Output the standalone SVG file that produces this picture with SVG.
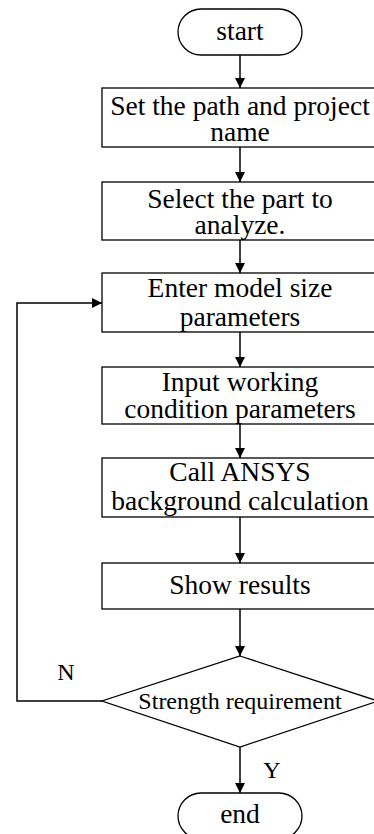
<svg xmlns="http://www.w3.org/2000/svg" width="374" height="834" viewBox="0 0 374 834">
<defs>
<marker id="arr" markerWidth="10" markerHeight="10" refX="10" refY="5" orient="auto" markerUnits="userSpaceOnUse">
<path d="M0,0 L10,5 L0,10 Z" fill="#000"/>
</marker>
<style>
.n{fill:#fff;stroke:#000;stroke-width:1.3}
.t{font-family:"Liberation Serif","Times New Roman",serif;font-size:27.5px;fill:#000;text-anchor:middle}
.d{font-size:24px}
.c{fill:none;stroke:#000;stroke-width:1.5}
</style>
</defs>
<rect width="374" height="834" fill="#fff"/>
<g id="connectors">
<line class="c" x1="240" y1="55" x2="240" y2="88" marker-end="url(#arr)"/>
<line class="c" x1="240" y1="147" x2="240" y2="182" marker-end="url(#arr)"/>
<line class="c" x1="240" y1="240" x2="240" y2="273" marker-end="url(#arr)"/>
<line class="c" x1="240" y1="332" x2="240" y2="367" marker-end="url(#arr)"/>
<line class="c" x1="240" y1="424" x2="240" y2="458" marker-end="url(#arr)"/>
<line class="c" x1="240" y1="517" x2="240" y2="563" marker-end="url(#arr)"/>
<line class="c" x1="240" y1="609" x2="240" y2="656" marker-end="url(#arr)"/>
<line class="c" x1="240" y1="747" x2="240" y2="793" marker-end="url(#arr)"/>
<polyline class="c" points="102,701 17,701 17,303 102,303" marker-end="url(#arr)"/>
<text class="t d" x="66" y="680">N</text>
<text class="t d" x="272" y="778">Y</text>
</g>
<g id="start">
<rect class="n" x="178" y="9" width="124" height="46" rx="23"/>
<text class="t" x="240" y="40">start</text>
</g>
<g id="setPath">
<rect class="n" x="102" y="88" width="276" height="59"/>
<text class="t" x="240" y="115">Set the path and project</text>
<text class="t" x="240" y="141">name</text>
</g>
<g id="selectPart">
<rect class="n" x="102" y="182" width="276" height="58"/>
<text class="t" x="240" y="208">Select the part to</text>
<text class="t" x="240" y="234">analyze.</text>
</g>
<g id="modelSize">
<rect class="n" x="102" y="273" width="276" height="59"/>
<text class="t" x="240" y="297">Enter model size</text>
<text class="t" x="240" y="326">parameters</text>
</g>
<g id="workingCondition">
<rect class="n" x="102" y="367" width="276" height="57"/>
<text class="t" x="240" y="391">Input working</text>
<text class="t" x="240" y="418">condition parameters</text>
</g>
<g id="ansys">
<rect class="n" x="102" y="458" width="276" height="59"/>
<text class="t" x="240" y="481">Call ANSYS</text>
<text class="t" x="240" y="510">background calculation</text>
</g>
<g id="showResults">
<rect class="n" x="102" y="563" width="276" height="46"/>
<text class="t" x="240" y="594">Show results</text>
</g>
<g id="strength">
<polygon class="n" points="240,656 378,701 240,747 102,701"/>
<text class="t d" x="240" y="709">Strength requirement</text>
</g>
<g id="end">
<rect class="n" x="178" y="793" width="124" height="46" rx="23"/>
<text class="t" x="240" y="823">end</text>
</g>
</svg>
